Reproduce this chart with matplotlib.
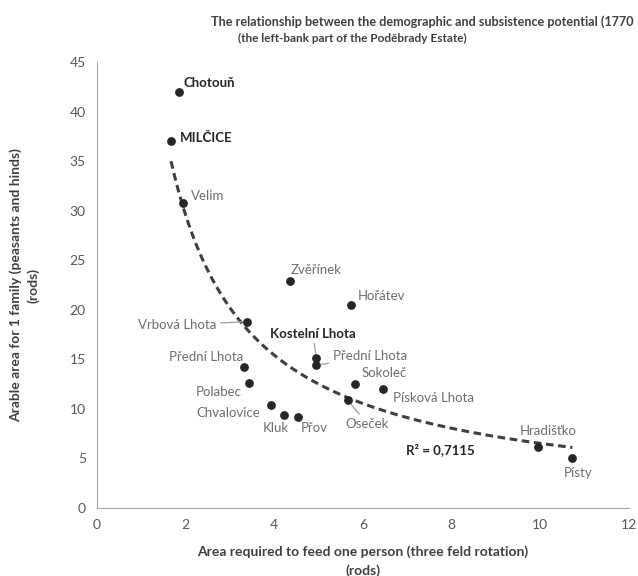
import numpy as np
import matplotlib
matplotlib.use("Agg")
import matplotlib.pyplot as plt

plt.rcParams['font.family'] = ['Lato', 'DejaVu Sans']

# data
names = ["Chotouň", "MILČICE", "Velim", "Zvěřínek", "Hořátev", "Vrbová Lhota",
         "Kostelní Lhota", "Přední Lhota", "Přední Lhota", "Polabec", "Chvalovice",
         "Kluk", "Přov", "Sokoleč", "Písková Lhota", "Oseček", "Hradišťko", "Písty"]
area_person = [1.85, 1.67, 1.94, 4.35, 5.74, 3.38, 4.95, 4.93, 3.31, 3.42, 3.92,
               4.21, 4.53, 5.83, 6.44, 5.65, 9.95, 10.72]
area_family = [42.0, 37.0, 30.8, 22.9, 20.5, 18.8, 15.1, 14.4, 14.2, 12.6, 10.4,
               9.4, 9.2, 12.5, 12.0, 10.9, 6.2, 5.1]
bold_names = ["Chotouň", "MILČICE", "Kostelní Lhota"]
# label text positions (x, y, horizontal alignment, leader line)
label_pos = [(1.96, 42.9, 'left', False), (1.87, 37.4, 'left', False),
             (2.12, 31.5, 'left', False), (4.37, 24.0, 'left', False),
             (5.88, 21.4, 'left', False), (2.70, 18.5, 'right', True),
             (3.90, 17.6, 'left', True), (5.32, 15.3, 'left', True),
             (3.29, 15.2, 'right', False), (3.27, 11.7, 'right', False),
             (3.69, 9.6, 'right', False), (4.03, 8.1, 'center', False),
             (4.91, 8.1, 'center', False), (5.97, 13.6, 'left', False),
             (6.67, 11.1, 'left', False), (5.61, 8.5, 'left', True),
             (9.53, 7.8, 'left', False), (10.52, 3.5, 'left', False)]
r2_text = "R² = 0,7115"

x = np.array(area_person)
y = np.array(area_family)

fig = plt.figure(figsize=(6.38, 5.76), dpi=100)
ax = fig.add_axes([0.152, 0.118, 0.834, 0.774])

# power trendline
b, a = np.polyfit(np.log(x), np.log(y), 1)
xt = np.linspace(x.min(), x.max(), 200)
ax.plot(xt, np.exp(a) * xt**b, color='#404040', lw=2.2, ls=(0, (2.5, 1.5)), zorder=2)

ax.scatter(x, y, s=28, color='#262626', zorder=3)

for n, px, py, (tx, ty, ha, lead) in zip(names, x, y, label_pos):
    bold = n in bold_names
    col = '#262626' if bold else '#6e6e6e'
    if lead:
        ax.annotate(n, xy=(px, py), xytext=(tx, ty), ha=ha, va='center',
                    fontsize=9.5, color=col, fontweight='bold' if bold else 'normal',
                    arrowprops=dict(arrowstyle='-', color='#a6a6a6', lw=1,
                                    shrinkA=1, shrinkB=4))
    else:
        ax.text(tx, ty, n, ha=ha, va='center', fontsize=9.5, color=col,
                fontweight='bold' if bold else 'normal')

ax.text(6.96, 5.85, r2_text, ha='left', va='center', fontsize=9.5,
        fontweight='bold', color='#262626')

ax.set_xlim(0, 12)
ax.set_ylim(0, 45)
ax.set_xticks(range(0, 13, 2))
ax.set_yticks(range(0, 46, 5))
ax.tick_params(length=0, labelsize=10, labelcolor='#595959', pad=8)
for s in ['top', 'right']:
    ax.spines[s].set_visible(False)
for s in ['left', 'bottom']:
    ax.spines[s].set_color('#a6a6a6')

ax.set_xlabel("Area required to feed one person (three feld rotation)\n(rods)",
              fontsize=10, fontweight='bold', color='#404040', linespacing=1.6,
              labelpad=10)
ax.set_ylabel("Arable area for 1 family (peasants and hinds)\n(rods)",
              fontsize=10, fontweight='bold', color='#404040', linespacing=1.4,
              labelpad=22)

title = fig.text(0.331, 0.962,
                 "The relationship between the demographic and subsistence potential (1770",
                 fontsize=11.5, fontweight='bold', color='#404040', ha='left', va='center')
fig.text(0.552, 0.934, "(the left-bank part of the Poděbrady Estate)",
         fontsize=8.5, fontweight='bold', color='#404040', ha='center', va='center')

# shrink the title so it ends at the right edge of the figure
r = fig.canvas.get_renderer()
bb = title.get_window_extent(r)
avail = fig.bbox.width - 3 - bb.x0
if bb.width > avail:
    title.set_fontsize(11.5 * avail / bb.width)

fig.savefig("out.png", dpi=100)
